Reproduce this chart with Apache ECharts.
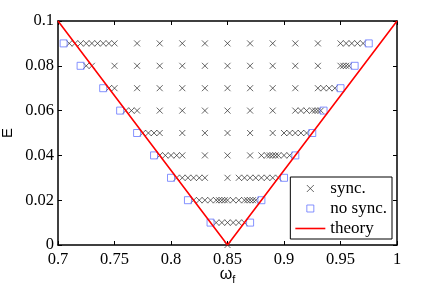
<!DOCTYPE html>
<html><head><meta charset="utf-8">
<script src="https://cdn.jsdelivr.net/npm/echarts@6/dist/echarts.min.js"></script>
<style>html,body{margin:0;padding:0;background:#fff}#c{width:438px;height:293px}</style>
</head><body><div id="c"></div>
<script>
// ---- data ----
const xTicks = [0.7, 0.75, 0.8, 0.85, 0.9, 0.95, 1];
const yTicks = [0, 0.02, 0.04, 0.06, 0.08, 0.1];
const syncE = [0, 0.01, 0.02, 0.03, 0.04, 0.05, 0.06, 0.07, 0.08, 0.09];
const sync00 = [0.85];
const sync01 = [0.84, 0.845, 0.85, 0.855, 0.86, 0.865];
const sync02 = [0.82, 0.825, 0.83, 0.835, 0.84, 0.8425, 0.845, 0.8475, 0.85, 0.855, 0.86, 0.865, 0.8675, 0.87, 0.8725, 0.875];
const sync03 = [0.805, 0.81, 0.815, 0.82, 0.825, 0.83, 0.85, 0.86, 0.865, 0.87, 0.875, 0.88, 0.885, 0.89, 0.895];
const sync04 = [0.79, 0.795, 0.8, 0.805, 0.81, 0.83, 0.85, 0.87, 0.88, 0.885, 0.8875, 0.89, 0.8925, 0.895, 0.9, 0.905];
const sync05 = [0.775, 0.78, 0.785, 0.79, 0.81, 0.83, 0.85, 0.87, 0.89, 0.9, 0.905, 0.91, 0.915, 0.92];
const sync06 = [0.76, 0.765, 0.77, 0.79, 0.81, 0.83, 0.85, 0.87, 0.89, 0.91, 0.915, 0.92, 0.925, 0.9275, 0.93, 0.9325];
const sync07 = [0.745, 0.75, 0.77, 0.79, 0.81, 0.83, 0.85, 0.87, 0.89, 0.91, 0.93, 0.935, 0.94, 0.945];
const sync08 = [0.725, 0.73, 0.75, 0.77, 0.79, 0.81, 0.83, 0.85, 0.87, 0.89, 0.91, 0.93, 0.95, 0.9525, 0.955, 0.9575];
const sync09 = [0.71, 0.715, 0.72, 0.725, 0.73, 0.735, 0.74, 0.745, 0.75, 0.77, 0.79, 0.81, 0.83, 0.85, 0.87, 0.89, 0.91, 0.93, 0.95, 0.955, 0.96, 0.965, 0.97];
const syncRows = [sync00, sync01, sync02, sync03, sync04, sync05, sync06, sync07, sync08, sync09];
const noSyncE = [0.01, 0.02, 0.03, 0.04, 0.05, 0.06, 0.07, 0.08, 0.09];
const noSyncLeft = [0.835, 0.815, 0.8, 0.785, 0.77, 0.755, 0.74, 0.72, 0.705];
const noSyncRight = [0.87, 0.88, 0.9, 0.91, 0.925, 0.935, 0.95, 0.9625, 0.975];
const theoryOmega = [0.7, 0.85, 1];
const theoryE = [0.1, 0, 0.1];

// ---- build series data ----
const syncData = [];
syncRows.forEach((row, i) => row.forEach(w => syncData.push([w, syncE[i]])));
const noSyncData = [];
noSyncE.forEach((e, i) => { noSyncData.push([noSyncLeft[i], e]); noSyncData.push([noSyncRight[i], e]); });
const theoryData = theoryOmega.map((w, i) => [w, theoryE[i]]);

const serif = "'Liberation Serif', 'Times New Roman', Times, serif";
const sans = "'Liberation Sans', Arial, Helvetica, sans-serif";
const crossPath = 'path://M0,0L10,10M10,0L0,10';
const squarePath = 'path://M0,0L10,0L10,10L0,10Z';
const linePath = 'path://M0,0L30,0L30,1.6L0,1.6Z';
const crossColor = '#2a2a2a';
const squareColor = '#6677ff';
const axisBase = {
  axisLine: { show: true, onZero: false, lineStyle: { color: '#000', width: 1.5 } },
  axisTick: { show: true, inside: true, length: 4, lineStyle: { color: '#000', width: 1 } },
  splitLine: { show: false }
};
const chart = echarts.init(document.getElementById('c'), null, { renderer: 'canvas' });
chart.setOption({
  animation: false,
  backgroundColor: '#fff',
  grid: { left: 58, right: 41, top: 21, bottom: 48, containLabel: false, outerBoundsMode: 'none' },
  xAxis: [
    Object.assign({}, axisBase, {
      type: 'value', min: xTicks[0], max: xTicks[xTicks.length - 1], interval: 0.05, position: 'bottom',
      axisLabel: { color: '#000', fontFamily: serif, fontSize: 16.5, margin: 6,
        formatter: v => String(+v.toFixed(2)) },
      name: '{w|ω}{f|f}', nameLocation: 'middle', nameGap: 19, nameMoveOverlap: false,
      nameTextStyle: { rich: { w: { fontFamily: sans, fontSize: 16, color: '#000' },
                               f: { fontFamily: sans, fontSize: 11, color: '#000', padding: [10, 0, 0, 0] } } }
    }),
    Object.assign({}, axisBase, {
      type: 'value', min: xTicks[0], max: xTicks[xTicks.length - 1], interval: 0.05, position: 'top',
      axisLabel: { show: false }
    })
  ],
  yAxis: [
    Object.assign({}, axisBase, {
      type: 'value', min: yTicks[0], max: yTicks[yTicks.length - 1], interval: 0.02, position: 'left',
      axisLabel: { color: '#000', fontFamily: serif, fontSize: 16.5, margin: 4,
        formatter: v => String(+v.toFixed(2)) },
      name: 'E', nameLocation: 'middle', nameGap: 43, nameRotate: 90, nameMoveOverlap: false,
      nameTextStyle: { fontFamily: sans, fontSize: 15, color: '#000' }
    }),
    Object.assign({}, axisBase, {
      type: 'value', min: yTicks[0], max: yTicks[yTicks.length - 1], interval: 0.02, position: 'right',
      axisLabel: { show: false }
    })
  ],
  legend: {
    orient: 'vertical', right: 46, top: 177,
    backgroundColor: '#fff', borderColor: '#000', borderWidth: 1, borderRadius: 0,
    padding: [3, 5, 2, 5], itemWidth: 30, itemHeight: 7, itemGap: 3,
    textStyle: { fontFamily: serif, fontSize: 17, color: '#000' },
    data: [
      { name: 'sync.', icon: crossPath, itemStyle: { color: 'rgba(0,0,0,0)', borderColor: crossColor, borderWidth: 0.9 } },
      { name: 'no sync.', icon: squarePath, itemStyle: { color: 'rgba(0,0,0,0)', borderColor: squareColor, borderWidth: 1 } },
      { name: 'theory', icon: linePath, itemStyle: { color: '#ff0000', borderWidth: 0 } }
    ]
  },
  series: [
    { name: 'sync.', type: 'scatter', data: syncData, symbol: crossPath, symbolSize: 6, z: 3,
      itemStyle: { color: 'rgba(0,0,0,0)', borderColor: crossColor, borderWidth: 0.9 } },
    { name: 'no sync.', type: 'scatter', data: noSyncData, symbol: 'rect', symbolSize: 7, z: 4,
      itemStyle: { color: 'rgba(0,0,0,0)', borderColor: squareColor, borderWidth: 1 } },
    { name: 'theory', type: 'line', data: theoryData, symbol: 'none', showSymbol: false, z: 5,
      lineStyle: { color: '#ff0000', width: 1.6 }, itemStyle: { color: '#ff0000' } }
  ]
});
</script></body></html>
